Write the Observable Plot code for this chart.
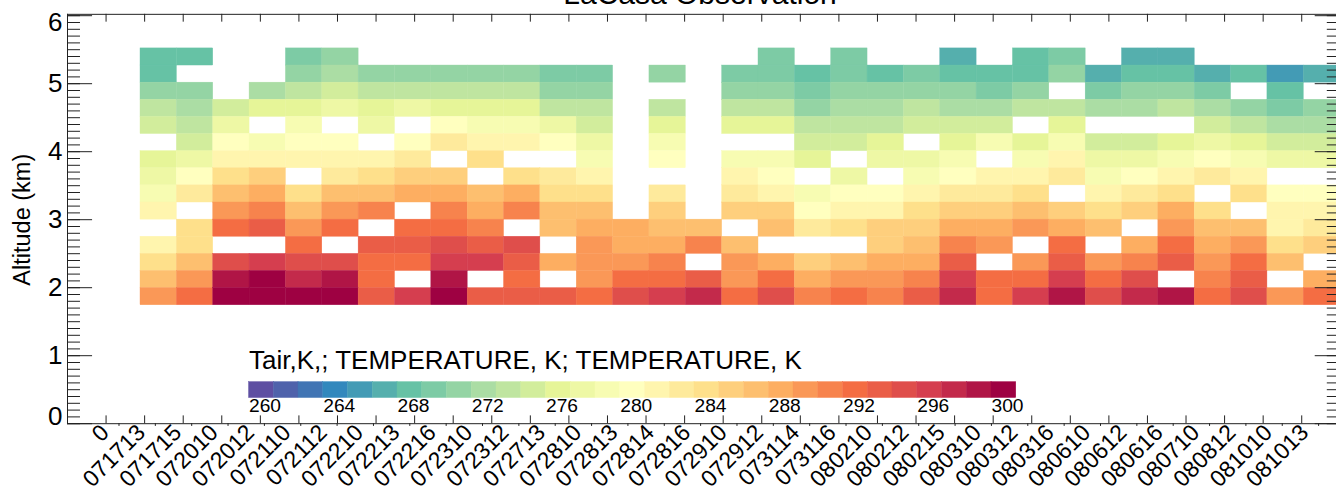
<!DOCTYPE html>
<html><head><meta charset="utf-8">
<script src="https://cdn.jsdelivr.net/npm/d3@7"></script>
<script src="https://cdn.jsdelivr.net/npm/@observablehq/plot@0.6"></script>
<style>html,body{margin:0;padding:0;background:#fff;overflow:hidden}svg{display:block}</style>
</head><body><div id="chart"></div>
<script>
const _ = null;
const chartTitle = "LaCasa Observation";
const legendTitle = "Tair,K,; TEMPERATURE, K; TEMPERATURE, K";
const timeLabels = ["0","071713","071715","072010","072012","072110","072112","072210","072213","072216","072310","072312","072713","072810","072813","072814","072816","072910","072912","073114","073116","080210","080212","080215","080310","080312","080316","080610","080612","080616","080710","080812","081010","081013"];
const yTicks = [0,1,2,3,4,5,6];
const legendTicks = [260,264,268,272,276,280,284,288,292,296,300];
const spectral = ["#5e4fa2","#3288bd","#66c2a5","#abdda4","#e6f598","#ffffbf","#fee08b","#fdae61","#f46d43","#d53e4f","#9e0142"];

// colour-level index (1.333 K per level from 260 K), one array per altitude bin, top to bottom
const alt5p25 = [6,6,_,_,7,8,_,_,_,_,_,_,_,_,_,_,_,7,_,7,_,_,5,_,6,7,_,5,5,_,_,_,_];
const alt5p00 = [6,_,_,_,8,9,8,8,8,8,8,7,7,_,8,_,7,7,6,7,6,7,6,6,6,8,5,6,6,5,6,4,5];
const alt4p75 = [8,8,_,9,10,11,10,10,10,10,10,8,8,_,_,_,8,8,7,8,8,8,8,7,8,_,7,8,8,7,_,6,_];
const alt4p50 = [10,9,11,12,12,13,12,13,12,12,12,10,10,_,10,_,10,10,8,9,9,10,9,9,10,10,9,9,10,9,8,7,8];
const alt4p25 = [11,10,13,_,14,_,13,_,15,14,14,13,11,_,12,_,12,12,10,10,10,11,11,11,_,12,_,_,_,11,10,9,9];
const alt4p00 = [_,11,15,14,15,15,_,15,17,16,16,15,13,_,14,_,_,_,11,11,12,_,12,14,12,14,11,11,12,13,12,11,11];
const alt3p75 = [12,13,16,16,16,16,16,17,_,18,_,_,14,_,15,_,14,14,12,_,13,13,14,_,14,16,13,13,14,15,14,13,13];
const alt3p50 = [13,15,18,19,_,17,18,19,19,_,18,17,16,_,_,_,16,15,_,13,_,14,15,16,16,17,14,15,16,17,16,_,_];
const alt3p25 = [14,17,20,21,18,20,20,21,21,20,21,18,18,_,17,_,17,16,14,15,15,16,17,17,18,_,16,17,18,_,18,15,15];
const alt3p00 = [16,_,22,23,20,22,23,_,23,21,23,20,20,_,19,_,19,19,15,16,16,18,19,19,20,19,18,19,21,18,_,16,16];
const alt2p75 = [_,18,24,25,22,24,_,24,24,23,_,20,21,21,20,20,_,20,17,18,19,19,21,21,22,21,20,_,22,20,20,16,17];
const alt2p50 = [16,18,_,_,24,_,25,25,26,25,26,_,22,21,21,23,20,_,_,_,19,20,23,22,_,24,_,21,24,21,22,18,19];
const alt2p25 = [18,20,26,27,26,26,24,24,27,27,25,21,22,22,23,_,22,21,19,20,21,21,25,_,22,25,22,23,25,22,24,20,_];
const alt2p00 = [20,22,29,30,28,29,24,_,29,_,24,_,22,24,24,25,22,24,21,22,22,23,27,24,24,27,24,26,_,23,25,_,21];
const alt1p75 = [22,24,30,30,30,30,25,27,30,25,25,25,24,26,27,28,24,26,23,24,23,25,28,24,27,29,26,28,29,24,26,22,24];

const altRows = [alt5p25,alt5p00,alt4p75,alt4p50,alt4p25,alt4p00,alt3p75,alt3p50,alt3p25,alt3p00,alt2p75,alt2p50,alt2p25,alt2p00,alt1p75];

const levelCount = 31, levelK = 4/3;
const toK = l => 260 + l * levelK;
const ramp = d3.piecewise(d3.interpolateRgb, spectral);
const levelColors = d3.range(levelCount).map(i => ramp(i / (levelCount - 1)));
const thresholds = d3.range(levelCount - 1).map(i => toK(i + 0.5));

// axis units: x runs 0..33 across the frame, y is km
const cellX0 = 1.893, cellW = 0.9425, cellY0 = 1.742, cellH = 0.2518;
const labelX0 = 1.335;
const cells = [];
altRows.forEach((row, r) => row.forEach((l, c) => {
  if (l === null) return;
  const b = cellY0 + cellH * (altRows.length - 1 - r);
  cells.push({x1: cellX0 + cellW * c, x2: cellX0 + cellW * (c + 1), y1: b, y2: b + cellH, t: toK(l)});
}));
const legX0 = 4.706, legW = 0.6417, legY1 = 0.377, legY2 = 0.612;
const legendCells = d3.range(levelCount).map(i => ({x1: legX0 + legW * i, x2: legX0 + legW * (i + 1), y1: legY1, y2: legY2, t: toK(i)}));

const xMajor = d3.range(1, 33);
const yMinor = d3.range(0, 61).map(d => d / 10);
const labelRows = timeLabels.map((t, i) => ({t, x: labelX0 + cellW * i}));
const axisColor = "#222";
const yTop = 6.02;

const plot = Plot.plot({
  width: 1336, height: 491,
  margin: 0,
  style: {fontFamily: "'Liberation Sans', Arial, sans-serif", background: "#fff", color: "#000"},
  x: {domain: [0, 33], range: [67, 1339.8], axis: null},
  y: {domain: [0, 6], range: [423.2, 15.2], axis: null},
  color: {type: "threshold", domain: thresholds, range: levelColors},
  marks: [
    Plot.rect(cells, {x1: "x1", x2: "x2", y1: "y1", y2: "y2", fill: "t", stroke: "t", strokeWidth: 0.4}),
    Plot.rect(legendCells, {x1: "x1", x2: "x2", y1: "y1", y2: "y2", fill: "t", stroke: "t", strokeWidth: 0.4}),
    // frame
    Plot.ruleY([0], {x1: 0, x2: 33, stroke: axisColor}),
    Plot.ruleY([yTop], {x1: 0, x2: 33, stroke: axisColor}),
    Plot.ruleX([0], {y1: 0, y2: yTop, stroke: axisColor}),
    // y ticks
    Plot.ruleY(yMinor, {x1: 0, x2: 0.337, stroke: axisColor}),
    Plot.ruleY(yTicks, {x1: 0, x2: 0.65, stroke: axisColor}),
    Plot.ruleY(yMinor, {x1: 33, x2: 32.663, stroke: axisColor}),
    Plot.ruleY(yTicks, {x1: 33, x2: 32.35, stroke: axisColor}),
    // x ticks
    Plot.ruleX(xMajor, {y1: 0, y2: 0.115, stroke: axisColor}),
    Plot.ruleX(xMajor, {y1: yTop, y2: yTop - 0.115, stroke: axisColor}),
    Plot.ruleX(labelRows, {x: "x", y1: 0, y2: -0.04, stroke: axisColor}),
    // y labels
    Plot.text(yTicks.filter(d => d > 0 && d < 6), {x: 0, y: d => d, text: d => String(d), textAnchor: "end", dx: -5, fontSize: 26, fill: "#000"}),
    Plot.text([0], {x: 0, y: d => d, text: d => String(d), textAnchor: "end", dx: -5, dy: -7.5, fontSize: 26, fill: "#000"}),
    Plot.text([6], {x: 0, y: d => d, text: d => String(d), textAnchor: "end", dx: -5, dy: 7, fontSize: 26, fill: "#000"}),
    Plot.text(["Altitude (km)"], {x: 0, y: 3, dx: -45, rotate: -90, text: d => d, fontSize: 23.5, fill: "#000"}),
    // x labels
    Plot.text(labelRows, {x: "x", y: 0, text: "t", rotate: -45, textAnchor: "end", lineAnchor: "middle", dx: -14, dy: 5, fontSize: 23, fill: "#000"}),
    // titles
    Plot.text([chartTitle], {x: 16.4, y: 6.13, dy: -2.5, text: d => d, fontSize: 30, lineAnchor: "bottom", fill: "#000"}),
    Plot.text([legendTitle], {x: legX0, y: legY2, dy: -13, text: d => d, textAnchor: "start", lineAnchor: "bottom", fontSize: 26, fill: "#000"}),
    Plot.text(legendTicks, {x: d => legX0 + legW * (d - 260) / levelK, y: legY1, dy: 0, text: d => String(d), textAnchor: "start", lineAnchor: "top", fontSize: 19.2, fill: "#000"})
  ]
});
document.getElementById("chart").appendChild(plot);
</script></body></html>
